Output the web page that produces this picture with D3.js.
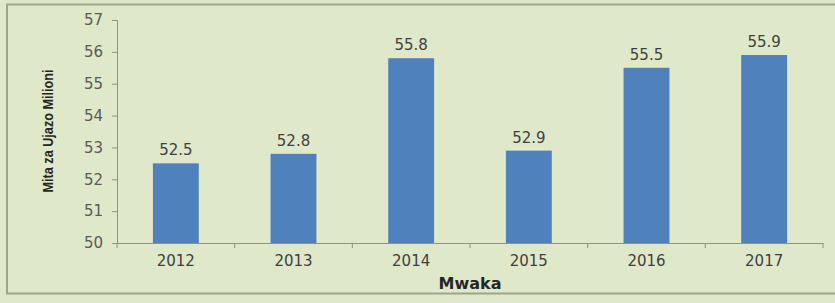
<!DOCTYPE html>
<html>
<head>
<meta charset="utf-8">
<script src="https://cdn.jsdelivr.net/npm/d3@7"></script>
<style>
  body { margin: 0; background: #ffffff; }
  svg { display: block; }
</style>
</head>
<body>
<svg id="chart"></svg>
<script>
// chart data
const years = ['2012', '2013', '2014', '2015', '2016', '2017'];
const volumes = [52.5, 52.8, 55.8, 52.9, 55.5, 55.9];
const yTicks = [50, 51, 52, 53, 54, 55, 56, 57];
const xTitle = 'Mwaka';
const yTitle = 'Mita za Ujazo Milioni';

const W = 835, H = 303;
const margin = { top: 20, right: 12, bottom: 60, left: 117 };
const width = W - margin.left - margin.right,
      height = H - margin.top - margin.bottom;

const svg = d3.select('#chart')
  .attr('width', W)
  .attr('height', H);

// panel background + frame
svg.append('rect')
  .attr('x', 0).attr('y', 0)
  .attr('width', W).attr('height', H)
  .attr('fill', '#dfe8c9');
svg.append('rect')
  .attr('x', 7).attr('y', 4.5)
  .attr('width', W + 10).attr('height', 289)
  .attr('fill', 'none')
  .attr('stroke', '#9aa58a')
  .attr('stroke-width', 2);

const g = svg.append('g')
  .attr('transform', `translate(${margin.left},${margin.top})`);

// scales
const x = d3.scaleBand()
  .domain(years)
  .range([0, width])
  .paddingInner(0.61)
  .paddingOuter(0.305);

const y = d3.scaleLinear()
  .domain([50, 57])
  .range([height, 0]);

// y axis
const yAxis = g.append('g')
  .call(d3.axisLeft(y).tickValues(yTicks).tickFormat(d3.format('d'))
    .tickSize(5).tickPadding(9));
yAxis.select('.domain').attr('stroke', '#8c9483');
yAxis.selectAll('.tick line').attr('stroke', '#8c9483');
yAxis.selectAll('.tick text')
  .attr('fill', '#5a5a5a')
  .style('font-family', 'DejaVu Sans, Verdana, sans-serif')
  .style('font-size', '15px');

// x axis, ticks between categories
const xAxis = g.append('g')
  .attr('transform', `translate(0,${height})`)
  .call(d3.axisBottom(x).tickSize(0).tickPadding(12));
xAxis.select('.domain').attr('stroke', '#8c9483');
xAxis.selectAll('.tick text')
  .attr('fill', '#3f3f3f')
  .style('font-family', 'DejaVu Sans, Verdana, sans-serif')
  .style('font-size', '15px');

const step = x.step();
g.append('g')
  .selectAll('line')
  .data(d3.range(years.length + 1))
  .enter()
  .append('line')
  .attr('x1', i => i * step)
  .attr('x2', i => i * step)
  .attr('y1', height)
  .attr('y2', height + 5)
  .attr('stroke', '#8c9483');

// bars
g.selectAll('.bar')
  .data(volumes)
  .enter()
  .append('rect')
  .attr('class', 'bar')
  .attr('x', (d, i) => x(years[i]))
  .attr('y', d => y(d))
  .attr('width', x.bandwidth())
  .attr('height', d => height - y(d))
  .attr('fill', '#4f81bd');

// value labels
g.selectAll('.val')
  .data(volumes)
  .enter()
  .append('text')
  .attr('class', 'val')
  .attr('x', (d, i) => x(years[i]) + x.bandwidth() / 2)
  .attr('y', d => y(d) - 8)
  .attr('text-anchor', 'middle')
  .attr('fill', '#404040')
  .style('font-family', 'DejaVu Sans, Verdana, sans-serif')
  .style('font-size', '15px')
  .text(d => d.toFixed(1));

// axis titles
g.append('text')
  .attr('x', width / 2)
  .attr('y', height + 46)
  .attr('text-anchor', 'middle')
  .attr('fill', '#262626')
  .style('font-family', 'DejaVu Sans, Verdana, sans-serif')
  .style('font-weight', 'bold')
  .style('font-size', '16px')
  .text(xTitle);

g.append('text')
  .attr('transform', `translate(${48 - margin.left},${131 - margin.top}) rotate(-90)`)
  .attr('text-anchor', 'middle')
  .attr('dy', '0.35em')
  .attr('fill', '#262626')
  .attr('textLength', 123)
  .attr('lengthAdjust', 'spacingAndGlyphs')
  .style('font-family', '"Liberation Sans Narrow", "Arial Narrow", sans-serif')
  .style('font-weight', 'bold')
  .style('font-size', '15px')
  .text(yTitle);
</script>
</body>
</html>
